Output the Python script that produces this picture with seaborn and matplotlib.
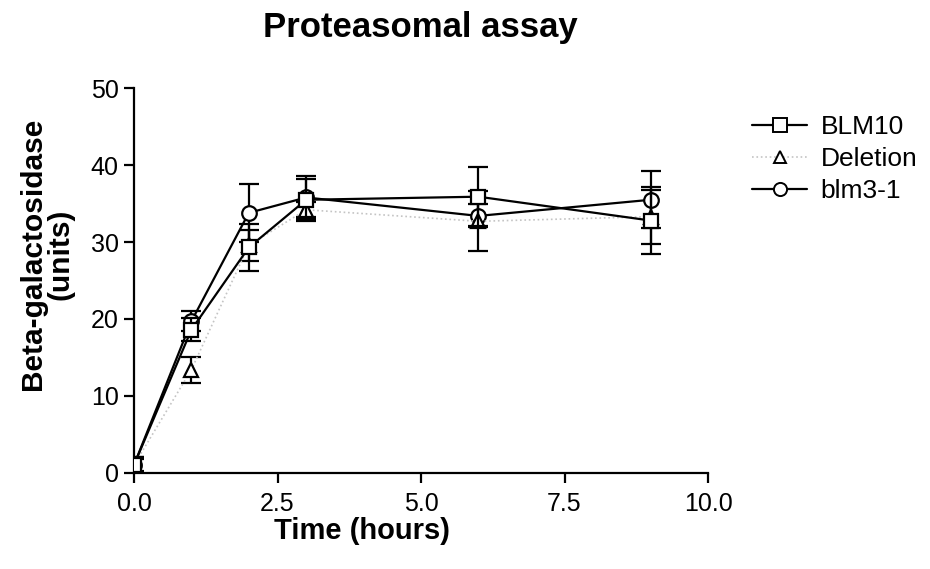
import matplotlib
matplotlib.use("Agg")
import matplotlib.pyplot as plt
import seaborn as sns
import numpy as np
import pandas as pd
from matplotlib.lines import Line2D

# ---- data ----
time_h = [0, 1, 2, 3, 6, 9]
blm10 = [1.0, 18.6, 29.3, 35.5, 35.9, 32.8]
blm10_err = [1.0, 1.5, 3.0, 2.7, 3.8, 4.3]
deletion = [1.0, 13.4, 29.6, 34.2, 32.7, 33.3]
deletion_err = [1.0, 1.7, 2.0, 1.0, 3.9, 3.5]
blm3_1 = [1.0, 19.7, 33.8, 35.8, 33.4, 35.5]
blm3_1_err = [0.8, 1.3, 3.8, 2.8, 1.5, 3.7]
series_names = ["BLM10", "Deletion", "blm3-1"]
x_ticks = [0.0, 2.5, 5.0, 7.5, 10.0]
y_ticks = [0, 10, 20, 30, 40, 50]

sns.set_style("ticks")
plt.rcParams['font.family'] = ['Liberation Sans', 'DejaVu Sans']
plt.rcParams['text.color'] = 'black'
plt.rcParams['xtick.color'] = 'black'
plt.rcParams['ytick.color'] = 'black'

fig = plt.figure(figsize=(9.3, 5.69), dpi=100)
ax = fig.add_axes([134/930, 1-472.7/569, (708-134)/930, (472.7-88.3)/569])

styles = {
    "BLM10": dict(vals=blm10, err=blm10_err, marker="s", ls="-", color="black", lw=1.6, ms=10.5, z=4),
    "Deletion": dict(vals=deletion, err=deletion_err, marker="^", ls=":", color="#c4c4c4", lw=1.2, ms=10, z=3),
    "blm3-1": dict(vals=blm3_1, err=blm3_1_err, marker="o", ls="-", color="black", lw=1.6, ms=10.5, z=2),
}
order = ["blm3-1", "Deletion", "BLM10"]
for name in order:
    s = styles[name]
    ax.errorbar(time_h, s["vals"], yerr=s["err"], fmt="none", ecolor="black",
                elinewidth=1.6, capsize=7, capthick=1.6, zorder=s["z"] - 0.5)
    sns.lineplot(x=time_h, y=s["vals"], ax=ax, color=s["color"], linestyle=s["ls"],
                 linewidth=s["lw"], marker=s["marker"], markersize=s["ms"],
                 markerfacecolor="white", markeredgecolor="black", markeredgewidth=1.6,
                 zorder=s["z"], legend=False)

ax.set_xlim(0, 10)
ax.set_ylim(0, 50)
ax.set_xticks(x_ticks)
ax.set_xticklabels([f"{t:.1f}" for t in x_ticks])
ax.set_yticks(y_ticks)
ax.set_yticklabels([str(t) for t in y_ticks])
for side in ["top", "right"]:
    ax.spines[side].set_visible(False)
for side in ["left", "bottom"]:
    ax.spines[side].set_linewidth(1.6)
    ax.spines[side].set_color("black")
ax.tick_params(axis="x", length=7, width=1.6, pad=7, labelsize=18, colors="black")
ax.tick_params(axis="y", length=7, width=1.6, pad=4, labelsize=18, colors="black")
ax.set_xlabel("")
ax.set_ylabel("")
for sp in ax.spines.values():
    sp.set_clip_on(False)

fig.text(420/930, 1-27/569, "Proteasomal assay", ha="center", va="center",
         fontsize=25, fontweight="bold", color="black")
fig.text(362/930, 1-531/569, "Time (hours)", ha="center", va="center",
         fontsize=21, fontweight="bold", color="black")
fig.text(47/930, 1-254/569, "Beta-galactosidase\n(units)", ha="center", va="center",
         rotation=90, fontsize=21.5, fontweight="bold", multialignment="center",
         linespacing=1.0, color="black")

handles = []
for name in series_names:
    s = styles[name]
    handles.append(Line2D([0], [0], color=s["color"], linestyle=s["ls"], linewidth=s["lw"],
                          marker=s["marker"], markersize=s["ms"] * 0.9, markerfacecolor="white",
                          markeredgecolor="black", markeredgewidth=1.4))
fig.legend(handles, series_names, loc="upper left", bbox_to_anchor=(752/930, 1-115/569),
           frameon=False, fontsize=19, handlelength=2.1, handletextpad=0.5,
           labelspacing=0.3, borderpad=0, borderaxespad=0, labelcolor="black")

fig.savefig("out.png", dpi=100)
